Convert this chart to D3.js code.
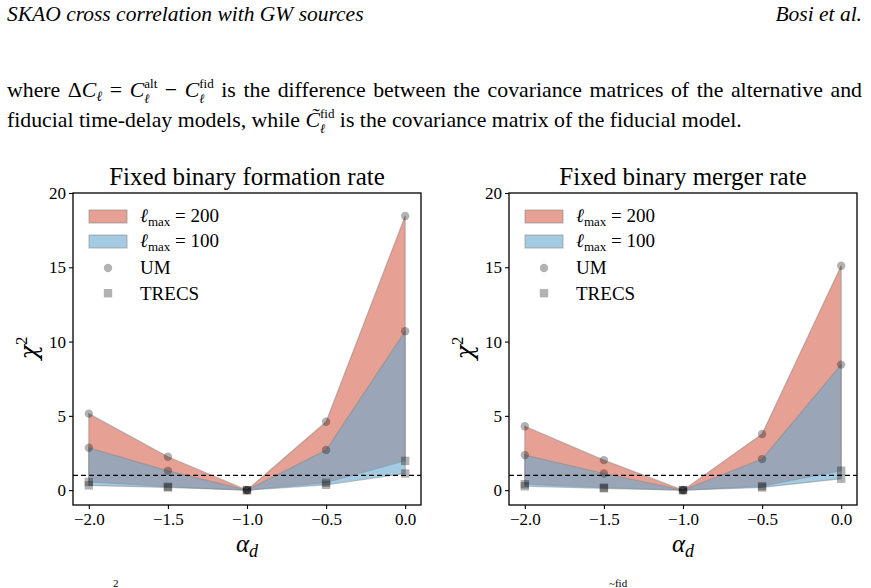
<!DOCTYPE html>
<html>
<head>
<meta charset="utf-8">
<script src="https://cdn.jsdelivr.net/npm/d3@7"></script>
<style>
  body { margin: 0; background: #fff; }
  svg text { font-family: "Liberation Serif", "Times New Roman", serif; fill: #000; }
</style>
</head>
<body>
<script>
const alphaD = [-2.0, -1.5, -1.0, -0.5, 0.0];

// fixed binary formation rate
const formUM200 = [5.15, 2.25, 0, 4.6, 18.45];
const formUM100 = [2.85, 1.3, 0, 2.7, 10.7];
const formTRECS200 = [0.55, 0.23, 0, 0.5, 1.97];
const formTRECS100 = [0.32, 0.18, 0, 0.36, 1.12];

// fixed binary merger rate
const mergUM200 = [4.3, 2.02, 0, 3.78, 15.1];
const mergUM100 = [2.36, 1.12, 0, 2.09, 8.45];
const mergTRECS200 = [0.4, 0.17, 0, 0.27, 1.31];
const mergTRECS100 = [0.26, 0.12, 0, 0.18, 0.77];

const xTicks = [-2.0, -1.5, -1.0, -0.5, 0.0];
const yTicks = [0, 5, 10, 15, 20];
const threshold = 1;

const width = 871;
const height = 588;
const red = "#d6604d";
const blue = "#67a9cf";

const svg = d3.select("body").append("svg")
  .attr("width", width)
  .attr("height", height);

// page text
svg.append("text")
  .attr("x", 7).attr("y", 21)
  .attr("font-size", 21.5).attr("font-style", "italic")
  .text("SKAO cross correlation with GW sources");

svg.append("text")
  .attr("x", 862).attr("y", 21)
  .attr("text-anchor", "end")
  .attr("font-size", 21.5).attr("font-style", "italic")
  .text("Bosi et al.");

// sub/superscript stacked on the same symbol, then back to the baseline
function stacked(t, sup, rest) {
  const s = t.append("tspan").attr("font-size", 13).attr("dy", -9).text(sup);
  const w = s.node().getComputedTextLength();
  const l = t.append("tspan").attr("font-style", "italic").attr("font-size", 13)
    .attr("dx", -w).attr("dy", 15).text("ℓ");
  const lw = l.node().getComputedTextLength();
  t.append("tspan").attr("dx", w - lw).attr("dy", -6).text(rest);
}

const line1 = svg.append("text")
  .attr("x", 7).attr("y", 97)
  .attr("font-size", 21.8);
line1.append("tspan").text("where Δ");
line1.append("tspan").attr("font-style", "italic").text("C");
line1.append("tspan").attr("font-style", "italic").attr("font-size", 14).attr("dy", 4).text("ℓ");
line1.append("tspan").attr("dy", -4).text(" = ");
line1.append("tspan").attr("font-style", "italic").text("C");
stacked(line1, "alt", " − ");
line1.append("tspan").attr("font-style", "italic").text("C");
stacked(line1, "fid", " is the difference between the covariance matrices of the alternative and");

// justify the first line to the right margin
const spaces = line1.text().split(" ").length - 1;
let ws = 0;
for (let k = 0; k < 3; k++) {
  const b = line1.node().getBBox();
  ws += (862 - (b.x + b.width)) / spaces;
  line1.attr("word-spacing", ws);
}

const line2 = svg.append("text")
  .attr("x", 7).attr("y", 127)
  .attr("font-size", 21.8);
line2.append("tspan").text("fiducial time-delay models, while ");
line2.append("tspan").attr("font-style", "italic").text("C̃");
stacked(line2, "fid", " is the covariance matrix of the fiducial model.");

// next paragraph, cut off by the page edge
svg.append("text").attr("x", 113).attr("y", 587).attr("font-size", 11).text("2");
svg.append("text").attr("x", 609).attr("y", 587).attr("font-size", 11).text("~fid");

function panel(left, title, um200, um100, trecs200, trecs100) {
  const top = 193, bottom = 505, right = left + 348;
  const x = d3.scaleLinear().domain([-2.1, 0.1]).range([left, right]);
  const y = d3.scaleLinear().domain([-1, 20]).range([bottom, top]);
  const g = svg.append("g");

  const pts = (a, b) => alphaD.map((d, i) => ({ x: d, lo: a[i], hi: b[i] }));
  const area = d3.area().x(d => x(d.x)).y0(d => y(d.lo)).y1(d => y(d.hi));

  g.append("path").datum(pts(trecs200, um200))
    .attr("d", area).attr("fill", red).attr("fill-opacity", 0.6)
    .attr("stroke", "#888").attr("stroke-opacity", 0.5).attr("stroke-width", 1.2);
  g.append("path").datum(pts(trecs100, um100))
    .attr("d", area).attr("fill", blue).attr("fill-opacity", 0.6)
    .attr("stroke", "#888").attr("stroke-opacity", 0.5).attr("stroke-width", 1.2);

  [um200, um100].forEach(s => {
    g.selectAll(null).data(alphaD).join("circle")
      .attr("cx", d => x(d)).attr("cy", (d, i) => y(s[i])).attr("r", 4.2)
      .attr("fill", "#000").attr("fill-opacity", 0.3);
  });
  [trecs200, trecs100].forEach(s => {
    g.selectAll(null).data(alphaD).join("rect")
      .attr("x", d => x(d) - 4.2).attr("y", (d, i) => y(s[i]) - 4.2)
      .attr("width", 8.4).attr("height", 8.4)
      .attr("fill", "#000").attr("fill-opacity", 0.3);
  });

  g.append("line")
    .attr("x1", left).attr("x2", right)
    .attr("y1", y(threshold)).attr("y2", y(threshold))
    .attr("stroke", "#000").attr("stroke-width", 1.3)
    .attr("stroke-dasharray", "5,3");

  const xAxis = g.append("g").attr("transform", `translate(0,${bottom})`)
    .call(d3.axisBottom(x).tickValues(xTicks).tickFormat(d3.format(".1f"))
      .tickSizeInner(4).tickSizeOuter(0).tickPadding(4));
  const yAxis = g.append("g").attr("transform", `translate(${left},0)`)
    .call(d3.axisLeft(y).tickValues(yTicks).tickSizeInner(4).tickSizeOuter(0).tickPadding(3));
  [xAxis, yAxis].forEach(a => {
    a.attr("font-family", null);
    a.select(".domain").remove();
    a.selectAll("line").attr("stroke-width", 1.1);
    a.selectAll("text").attr("font-size", 17);
  });

  g.append("rect")
    .attr("x", left).attr("y", top)
    .attr("width", right - left).attr("height", bottom - top)
    .attr("fill", "none").attr("stroke", "#000").attr("stroke-width", 1.3);

  g.append("text")
    .attr("x", (left + right) / 2).attr("y", 185)
    .attr("text-anchor", "middle").attr("font-size", 25)
    .text(title);

  const xl = g.append("text")
    .attr("x", (left + right) / 2).attr("y", 552)
    .attr("text-anchor", "middle").attr("font-size", 25);
  xl.append("tspan").attr("font-style", "italic").text("α");
  xl.append("tspan").attr("font-style", "italic").attr("font-size", 18).attr("dy", 5).text("d");

  const yl = g.append("text")
    .attr("transform", `translate(${left - 36},${348}) rotate(-90)`)
    .attr("text-anchor", "middle").attr("font-size", 24);
  yl.append("tspan").attr("font-family", "DejaVu Serif").attr("font-style", "italic").text("χ");
  yl.append("tspan").attr("font-size", 17).attr("dy", -10).text("2");

  // legend
  const lg = g.append("g").attr("transform", `translate(${left},${top})`);
  const patches = [[red, "200"], [blue, "100"]];
  patches.forEach(([c, v], i) => {
    lg.append("rect")
      .attr("x", 16).attr("y", 17 + i * 25).attr("width", 38).attr("height", 13)
      .attr("fill", c).attr("fill-opacity", 0.6)
      .attr("stroke", "#888").attr("stroke-opacity", 0.5).attr("stroke-width", 1.2);
    const t = lg.append("text").attr("x", 67).attr("y", 29 + i * 25).attr("font-size", 19);
    t.append("tspan").attr("font-style", "italic").text("ℓ");
    t.append("tspan").attr("font-size", 13).attr("dy", 4).text("max");
    t.append("tspan").attr("dy", -4).text(" = " + v);
  });
  lg.append("circle").attr("cx", 35).attr("cy", 75).attr("r", 4.2)
    .attr("fill", "#000").attr("fill-opacity", 0.3);
  lg.append("text").attr("x", 67).attr("y", 81).attr("font-size", 19).text("UM");
  lg.append("rect").attr("x", 30.8).attr("y", 96).attr("width", 8.4).attr("height", 8.4)
    .attr("fill", "#000").attr("fill-opacity", 0.3);
  lg.append("text").attr("x", 67).attr("y", 107).attr("font-size", 19).text("TRECS");
}

panel(73, "Fixed binary formation rate", formUM200, formUM100, formTRECS200, formTRECS100);
panel(509, "Fixed binary merger rate", mergUM200, mergUM100, mergTRECS200, mergTRECS100);
</script>
</body>
</html>
